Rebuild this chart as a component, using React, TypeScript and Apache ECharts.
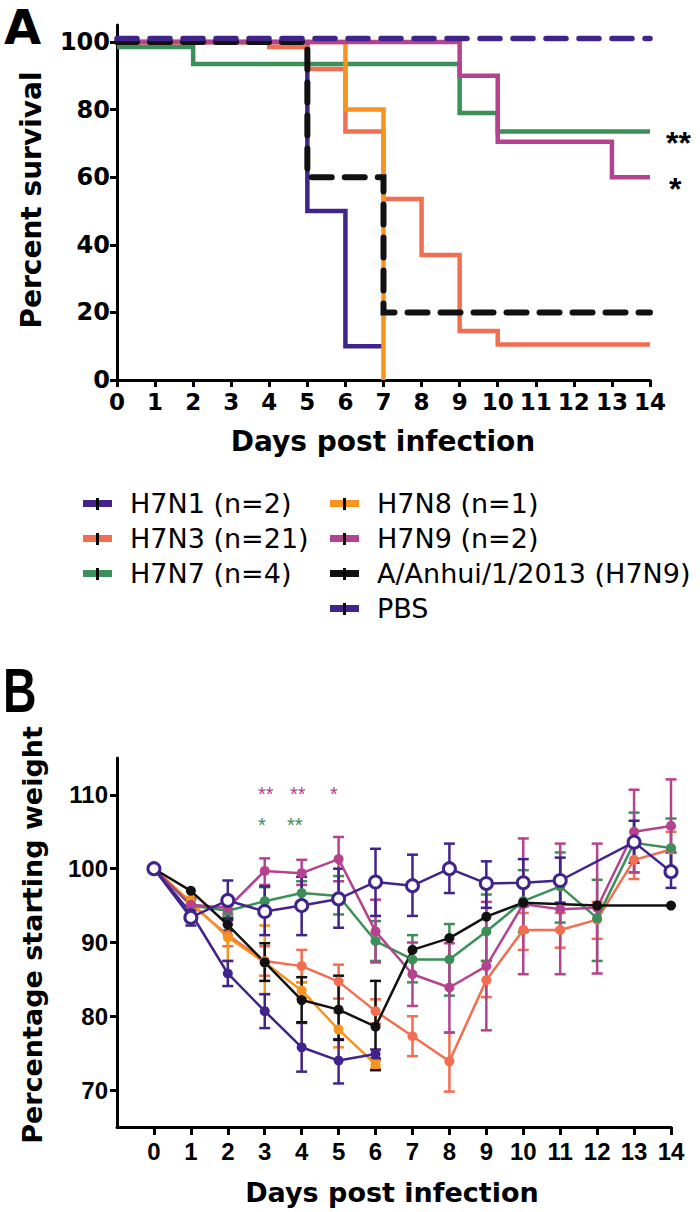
import React, { useEffect, useRef } from "react";
import * as echarts from "echarts";

// ---------- Panel A: survival (step change points: [day, percent]) ----------
const survH7N1 = [[0, 100], [5, 50], [6, 10], [7, 10]];
const survH7N3 = [[0, 100], [4, 98.5], [5, 92], [6, 73.5], [7, 53.5], [8, 37], [9, 14.5], [10, 10.5], [14, 10.5]];
const survH7N7 = [[0, 98.5], [2, 93.5], [9, 79], [10, 73.5], [14, 73.5]];
const survH7N8 = [[0, 100], [6, 80], [7, 0]];
const survH7N9 = [[0, 100], [9, 90], [10, 70.5], [13, 60], [14, 60]];
const survAnhui = [[0, 100], [5, 60], [7, 20], [14, 20]];
const survPBS = [[0, 101], [14, 101]];

const survTicksY = [0, 20, 40, 60, 80, 100];

// ---------- Panel B: weight ----------
const weightDays = [0, 1, 2, 3, 4, 5, 6, 7, 8, 9, 10, 11, 12, 13, 14];
const weightTicksY = [70, 80, 90, 100, 110];

const wH7N1 = [100, 94.0, 85.8, 80.7, 75.8, 74.0, 74.9];
const wH7N1Lo = [null, 93.0, 84.1, 78.4, 72.5, 70.9, 74.3];
const wH7N1Hi = [null, 95.0, 87.5, 83.0, 79.1, 76.9, 75.5];

const wH7N3 = [100, 95.2, 91.0, 87.5, 86.8, 84.7, 80.7, 77.3, 73.9, 84.9, 91.7, 91.7, 93.1, 101.2, 102.6];
const wH7N3Lo = [null, 94.3, 89.5, 85.5, 84.6, 82.4, 79.0, 74.6, 69.8, 82.6, 89.0, 89.3, 90.5, 98.6, 99.9];
const wH7N3Hi = [null, 96.1, 92.5, 89.5, 89.0, 87.0, 82.3, 80.0, 77.8, 87.5, 94.0, 94.0, 95.5, 103.6, 105.0];

const wH7N7 = [100, 95.0, 94.3, 95.6, 96.7, 96.3, 90.2, 87.7, 87.7, 91.5, 95.6, 97.6, 93.3, 103.5, 102.8];
const wH7N7Lo = [null, 94.2, 93.5, 93.8, 95.0, 93.8, 87.5, 84.6, 82.8, 87.5, 91.4, 92.7, 87.5, 99.5, 99.0];
const wH7N7Hi = [null, 95.8, 95.1, 97.5, 98.3, 99.0, 92.9, 91.0, 92.5, 96.5, 99.8, 102.2, 98.5, 107.6, 106.8];

const wH7N8 = [100, 95.5, 90.7, 87.3, 83.5, 78.2, 73.5];
const wH7N8Lo = [null, 94.8, 87.5, 83.0, 82.4, 75.8, 73.0];
const wH7N8Hi = [null, 96.2, 93.5, 92.3, 84.6, 80.5, 74.0];

const wH7N9 = [100, 95.1, 94.7, 99.7, 99.4, 101.3, 91.5, 85.7, 83.9, 86.8, 95.2, 94.5, 94.7, 105.0, 105.8];
const wH7N9Lo = [null, 94.3, 93.9, 97.8, 97.8, 98.3, 87.3, 81.4, 77.8, 78.1, 85.7, 85.7, 85.8, 99.5, 99.5];
const wH7N9Hi = [null, 95.9, 95.5, 101.4, 101.2, 104.3, 95.8, 90.0, 89.9, 95.5, 104.1, 103.4, 103.4, 110.7, 112.1];

const wAnhui = [100, 97.0, 92.4, 87.3, 82.2, 80.9, 78.6, 89.0, 90.6, 93.5, 95.4, null, 95.0, null, 95.0];
const wAnhuiLo = [null, null, 91.6, 84.8, 79.2, 76.8, 72.7, null, null, null, null, null, null, null, null];
const wAnhuiHi = [null, null, 93.2, 89.9, 85.3, 85.5, 84.8, null, null, null, null, null, null, null, null];

const wPBS = [100, 93.4, 95.7, 94.2, 95.0, 95.9, 98.2, 97.7, 100, 98.0, 98.1, 98.4, null, 103.6, 99.6];
const wPBSLo = [null, 92.3, 93.0, 91.0, 91.0, 92.0, 93.6, 93.6, 96.7, 94.7, 94.9, 95.4, null, 100.8, 97.4];
const wPBSHi = [null, 94.5, 98.4, 97.6, 98.9, 100.0, 102.7, 101.9, 103.4, 101.0, 101.3, 101.5, null, 106.5, 102.2];

const C_PURPLE = "#40248c";
const C_CORAL = "#f26e50";
const C_GREEN = "#3b8f58";
const C_ORANGE = "#f7941e";
const C_MAGENTA = "#b5428e";
const C_BLACK = "#111111";

const FD = '"DejaVu Sans", sans-serif';
const FL = '"Liberation Sans", Arial, sans-serif';

function pairs(vals: (number | null)[]) {
  const out: number[][] = [];
  vals.forEach((v, i) => {
    if (v != null) out.push([weightDays[i], v]);
  });
  return out;
}
function errs(lo: (number | null)[], hi: (number | null)[]) {
  const out: number[][] = [];
  lo.forEach((l, i) => {
    const h = hi[i];
    if (l != null && h != null) out.push([weightDays[i], l, h]);
  });
  return out;
}

function errorSeries(name: string, color: string, data: number[][]) {
  return {
    type: "custom",
    name,
    xAxisIndex: 1,
    yAxisIndex: 1,
    z: 1,
    data,
    encode: { x: 0, y: [1, 2] },
    renderItem: (params: any, api: any) => {
      const x = api.value(0);
      const p1 = api.coord([x, api.value(1)]);
      const p2 = api.coord([x, api.value(2)]);
      const w = 5.5;
      const st = { stroke: color, lineWidth: 2.5 };
      return {
        type: "group",
        children: [
          { type: "line", shape: { x1: p1[0], y1: p1[1], x2: p2[0], y2: p2[1] }, style: st },
          { type: "line", shape: { x1: p1[0] - w, y1: p1[1], x2: p1[0] + w, y2: p1[1] }, style: st },
          { type: "line", shape: { x1: p2[0] - w, y1: p2[1], x2: p2[0] + w, y2: p2[1] }, style: st },
        ],
      };
    },
  };
}

function survSeries(name: string, color: string, data: number[][], dashed = false, width = 4.5) {
  return {
    type: "line",
    name,
    xAxisIndex: 0,
    yAxisIndex: 0,
    data,
    step: "end",
    symbol: "none",
    itemStyle: { color },
    lineStyle: {
      color,
      width,
      cap: dashed ? "round" : "butt",
      join: "miter",
      type: dashed ? [20, 13] : "solid",
    },
  };
}

function weightSeries(name: string, color: string, data: number[][], open = false) {
  return {
    type: "line",
    name,
    xAxisIndex: 1,
    yAxisIndex: 1,
    data,
    symbol: "circle",
    symbolSize: open ? 12 : 10,
    z: open ? 4 : 3,
    itemStyle: open ? { color: "#ffffff", borderColor: color, borderWidth: 3 } : { color },
    lineStyle: { color, width: 2.5 },
  };
}

const axisLineStyle = { color: "#000", width: 3 };

export default function App() {
  const ref = useRef<HTMLDivElement>(null);
  useEffect(() => {
    document.body.style.margin = "0";
    if (!ref.current) return;
    const chart = echarts.init(ref.current, null, { renderer: "svg" });
    const legendText = { fontFamily: FD, fontSize: 27, color: "#000", padding: [0, 0, 0, 13] };
    const tickMarks: any[] = [];
    [504, 539, 574].forEach((y) =>
      tickMarks.push({ type: "rect", shape: { x: 96, y: y - 6, width: 3, height: 12 }, style: { fill: "#000" }, z: 100 })
    );
    [504, 539, 574, 609].forEach((y) =>
      tickMarks.push({ type: "rect", shape: { x: 343, y: y - 6, width: 3, height: 12 }, style: { fill: "#000" }, z: 100 })
    );
    const option: any = {
      animation: false,
      backgroundColor: "#fff",
      grid: [
        { left: 117, top: 25, width: 533, height: 355 },
        { left: 117, top: 758, width: 554, height: 369 },
      ],
      xAxis: [
        {
          type: "value",
          gridIndex: 0,
          min: 0,
          max: 14,
          interval: 1,
          axisLine: { lineStyle: axisLineStyle },
          axisTick: { length: 7, lineStyle: { color: "#000", width: 3 } },
          axisLabel: { fontFamily: FD, fontWeight: "bold", fontSize: 23, color: "#000", margin: 10 },
          splitLine: { show: false },
        },
        {
          type: "value",
          gridIndex: 1,
          min: -1,
          max: 14,
          axisLine: { onZero: false, lineStyle: axisLineStyle },
          axisTick: { length: 8, lineStyle: { color: "#000", width: 3 }, customValues: weightDays },
          axisLabel: { fontFamily: FL, fontWeight: "bold", fontSize: 24, color: "#000", margin: 12, customValues: weightDays },
          splitLine: { show: false },
        },
      ],
      yAxis: [
        {
          type: "value",
          gridIndex: 0,
          min: 0,
          max: 105,
          axisLine: { show: true, lineStyle: axisLineStyle },
          axisTick: { show: true, length: 7, lineStyle: { color: "#000", width: 3 }, customValues: survTicksY },
          axisLabel: { fontFamily: FD, fontWeight: "bold", fontSize: 24, color: "#000", margin: 7, customValues: survTicksY },
          splitLine: { show: false },
        },
        {
          type: "value",
          gridIndex: 1,
          min: 65,
          max: 115,
          axisLine: { show: true, onZero: false, lineStyle: axisLineStyle },
          axisTick: { show: true, length: 7, lineStyle: { color: "#000", width: 3 }, customValues: weightTicksY },
          axisLabel: { fontFamily: FL, fontWeight: "bold", fontSize: 24, color: "#000", margin: 9, customValues: weightTicksY },
          splitLine: { show: false },
        },
      ],
      legend: [
        {
          left: 83,
          top: 490,
          padding: 0,
          orient: "vertical",
          itemWidth: 29,
          itemHeight: 7,
          itemGap: 8,
          icon: "rect",
          selectedMode: false,
          textStyle: legendText,
          itemStyle: { borderWidth: 0 },
          data: ["H7N1 (n=2)", "H7N3 (n=21)", "H7N7 (n=4)"],
        },
        {
          left: 330,
          top: 490,
          padding: 0,
          orient: "vertical",
          itemWidth: 29,
          itemHeight: 7,
          itemGap: 8,
          icon: "rect",
          selectedMode: false,
          textStyle: legendText,
          itemStyle: { borderWidth: 0 },
          data: ["H7N8 (n=1)", "H7N9 (n=2)", "A/Anhui/1/2013 (H7N9)", "PBS"],
        },
      ],
      graphic: [
        { type: "text", x: 4, y: 3, style: { text: "A", font: `bold 48px ${FD}`, fill: "#000", textVerticalAlign: "top" } },
        { type: "text", x: 3, y: 691, scaleX: 0.75, style: { text: "B", font: `bold 62px ${FL}`, fill: "#000", textVerticalAlign: "middle" } },
        { type: "text", x: 383, y: 441, style: { text: "Days post infection", font: `bold 28px ${FD}`, fill: "#000", textAlign: "center", textVerticalAlign: "middle" } },
        { type: "text", x: 31, y: 200, rotation: Math.PI / 2, style: { text: "Percent survival", font: `bold 28px ${FD}`, fill: "#000", textAlign: "center", textVerticalAlign: "middle" } },
        { type: "text", x: 392, y: 1192, style: { text: "Days post infection", font: `bold 27px ${FD}`, fill: "#000", textAlign: "center", textVerticalAlign: "middle" } },
        { type: "text", x: 32, y: 935, rotation: Math.PI / 2, style: { text: "Percentage starting weight", font: `bold 27px ${FD}`, fill: "#000", textAlign: "center", textVerticalAlign: "middle" } },
        { type: "text", x: 666, y: 143, style: { text: "**", font: `bold 32px ${FL}`, fill: "#000", textVerticalAlign: "middle" } },
        { type: "text", x: 669, y: 189, style: { text: "*", font: `bold 32px ${FL}`, fill: "#000", textVerticalAlign: "middle" } },
        { type: "text", x: 258, y: 794, style: { text: "**", font: `20px ${FL}`, fill: C_MAGENTA, textVerticalAlign: "middle" } },
        { type: "text", x: 290, y: 794, style: { text: "**", font: `20px ${FL}`, fill: C_MAGENTA, textVerticalAlign: "middle" } },
        { type: "text", x: 330, y: 794, style: { text: "*", font: `20px ${FL}`, fill: C_MAGENTA, textVerticalAlign: "middle" } },
        { type: "text", x: 258, y: 825, style: { text: "*", font: `20px ${FL}`, fill: C_GREEN, textVerticalAlign: "middle" } },
        { type: "text", x: 287, y: 825, style: { text: "**", font: `20px ${FL}`, fill: C_GREEN, textVerticalAlign: "middle" } },
        ...tickMarks,
      ],
      series: [
        survSeries("H7N1 (n=2)", C_PURPLE, survH7N1),
        survSeries("H7N3 (n=21)", C_CORAL, survH7N3),
        survSeries("H7N7 (n=4)", C_GREEN, survH7N7),
        survSeries("H7N8 (n=1)", C_ORANGE, survH7N8),
        survSeries("H7N9 (n=2)", C_MAGENTA, survH7N9),
        survSeries("A/Anhui/1/2013 (H7N9)", C_BLACK, survAnhui, true, 6),
        survSeries("PBS", C_PURPLE, survPBS, true, 5.5),

        errorSeries("H7N3 err", C_CORAL, errs(wH7N3Lo, wH7N3Hi)),
        errorSeries("H7N8 err", C_ORANGE, errs(wH7N8Lo, wH7N8Hi)),
        errorSeries("H7N7 err", C_GREEN, errs(wH7N7Lo, wH7N7Hi)),
        errorSeries("H7N9 err", C_MAGENTA, errs(wH7N9Lo, wH7N9Hi)),
        errorSeries("H7N1 err", C_PURPLE, errs(wH7N1Lo, wH7N1Hi)),
        errorSeries("Anhui err", C_BLACK, errs(wAnhuiLo, wAnhuiHi)),
        errorSeries("PBS err", C_PURPLE, errs(wPBSLo, wPBSHi)),

        weightSeries("H7N3 weight", C_CORAL, pairs(wH7N3)),
        weightSeries("H7N8 weight", C_ORANGE, pairs(wH7N8)),
        weightSeries("H7N7 weight", C_GREEN, pairs(wH7N7)),
        weightSeries("H7N9 weight", C_MAGENTA, pairs(wH7N9)),
        weightSeries("H7N1 weight", C_PURPLE, pairs(wH7N1)),
        weightSeries("Anhui weight", C_BLACK, pairs(wAnhui)),
        weightSeries("PBS weight", C_PURPLE, pairs(wPBS), true),
      ],
    };
    chart.setOption(option);
    return () => chart.dispose();
  }, []);
  return <div ref={ref} style={{ width: 700, height: 1212 }} />;
}
